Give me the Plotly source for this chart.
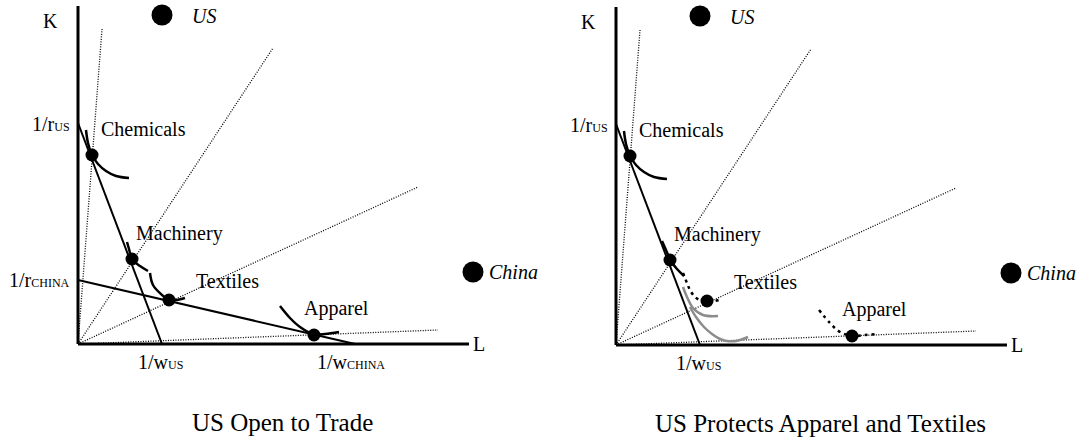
import plotly.graph_objects as go

# ---- diagram data (panel-local coordinates: L to the right, K upward) ----
axis_len_L = 391
axis_len_K = [338, 338]

rays_end = [(24, 315), (195, 296), (340, 157), (360, 14)]

us_isocost = [(0, 221), (84, 0)]
china_isocost = [(0, 64), (277, 0)]

dots = {"Chemicals": (14, 189), "Machinery": (54, 85), "Textiles": (91, 44), "Apparel": (236, 9)}

chem_iso_L = [8, 10, 14, 20, 28, 38, 51]
chem_iso_K = [214, 201, 189, 180, 173, 168, 166]

mach_iso_L = [49, 51, 54, 62, 70]
mach_iso_K = [102, 95, 85, 78, 73]

text_iso_L = [72, 75, 84, 91, 99, 107]
text_iso_K = [71, 59, 49, 44, 44, 46]

app_iso_L = [202, 212, 222, 235, 247, 261]
app_iso_K = [38, 26, 17, 10, 10, 12]

# right panel (protection)
mach2_L = [46, 50, 55, 61, 68]
mach2_K = [104, 95, 84, 76, 69]
text2_dot_L = [67, 71, 74, 79, 86, 92, 99, 106]
text2_dot_K = [72, 62, 55, 48, 44, 43, 44, 46]
gray_text_L = [67, 71, 77, 87, 102]
gray_text_K = [58, 48, 37, 30, 29]
gray_app_L = [74, 80, 88, 96, 104, 111, 120, 132]
gray_app_K = [38, 28, 18, 11, 6, 4, 4, 8]
app2_dot_L = [203, 214, 224, 237, 249, 261]
app2_dot_K = [35, 22, 13, 9, 10, 11]

us_point = (84, 329)
china_point = (395, 72)

titles = ["US Open to Trade", "US Protects Apparel and Textiles"]

FONT = "Liberation Serif, Times New Roman, Times, serif"
BLACK = "#000000"
GRAY = "#8c8c8c"
SUB = "<span style='font-size:12px'>%s</span>"

fig = go.Figure()


def add_line(xs, ys, panel, color=BLACK, width=2, dash="solid", shape="linear"):
    fig.add_trace(go.Scatter(x=xs, y=ys, mode="lines", xaxis="x" if panel == 1 else "x2",
                             yaxis="y" if panel == 1 else "y2",
                             line=dict(color=color, width=width, dash=dash, shape=shape),
                             hoverinfo="skip", showlegend=False))


def add_dots(xs, ys, panel, size):
    fig.add_trace(go.Scatter(x=xs, y=ys, mode="markers", xaxis="x" if panel == 1 else "x2",
                             yaxis="y" if panel == 1 else "y2",
                             marker=dict(color=BLACK, size=size, line=dict(width=0)),
                             hoverinfo="skip", showlegend=False))


def ann(text, x, y, panel, xanchor="left", size=20, italic=False):
    if italic:
        text = "<i>" + text + "</i>"
    fig.add_annotation(text=text, x=x, y=y, xref="x" if panel == 1 else "x2",
                       yref="y" if panel == 1 else "y2", showarrow=False,
                       xanchor=xanchor, yanchor="middle",
                       font=dict(family=FONT, size=size, color=BLACK))


for p in (1, 2):
    # rays
    for (ex, ey) in rays_end:
        add_line([0, ex], [0, ey], p, width=1.3, dash="1px,1.5px")
    # axes
    add_line([0, 0], [0, axis_len_K[p - 1]], p, width=3)
    add_line([0, axis_len_L], [0, 0], p, width=3)
    # US isocost
    add_line([q[0] for q in us_isocost], [q[1] for q in us_isocost], p, width=2)
    # chemicals isoquant
    add_line(chem_iso_L, chem_iso_K, p, width=2.5, shape="spline")
    # big country dots
    add_dots([us_point[0], china_point[0]], [us_point[1], china_point[1]], p, 21)
    ann("K", -28, 323, p, xanchor="center")
    ann("L", 401, 0, p, xanchor="center")
    ann("US", 112, 328, p, italic=True)
    ann("China", 409, 72, p, italic=True)
    ann("1/r" + SUB % "US", -6, 220, p, xanchor="right")
    ann("Chemicals", 21, 215, p)
    ann("Machinery", 56, 111, p)
    ann("Textiles", 116, 63, p)
    ann("Apparel", 224, 36, p)
    ann("1/w" + SUB % "US", 58, -18, p)
    ann(titles[p - 1], 204, -78, p, xanchor="center", size=25)

# panel 1 specifics
add_line([q[0] for q in china_isocost], [q[1] for q in china_isocost], 1, width=2)
add_line(mach_iso_L, mach_iso_K, 1, width=2.5, shape="spline")
add_line(text_iso_L, text_iso_K, 1, width=2.5, shape="spline")
add_line(app_iso_L, app_iso_K, 1, width=2.5, shape="spline")
add_dots([v[0] for v in dots.values()], [v[1] for v in dots.values()], 1, 13)
ann("1/r" + SUB % "CHINA", -6, 64, 1, xanchor="right")
ann("1/w" + SUB % "CHINA", 237, -18, 1)

# panel 2 specifics
add_line(gray_text_L, gray_text_K, 2, color=GRAY, width=2.5, shape="spline")
add_line(gray_app_L, gray_app_K, 2, color=GRAY, width=2.5, shape="spline")
add_line(mach2_L, mach2_K, 2, width=2.5, shape="spline")
add_line(text2_dot_L, text2_dot_K, 2, width=2.5, dash="3px,4px", shape="spline")
add_line(app2_dot_L, app2_dot_K, 2, width=2.5, dash="3px,4px", shape="spline")
add_dots([v[0] for v in dots.values()], [v[1] for v in dots.values()], 2, 13)

ax_common = dict(visible=False, showgrid=False, zeroline=False, fixedrange=True)
fig.update_layout(
    width=1084, height=441, margin=dict(l=0, r=0, t=0, b=0),
    paper_bgcolor="white", plot_bgcolor="white", showlegend=False,
    font=dict(family=FONT),
    xaxis=dict(domain=[0, 0.5], range=[-78, 464], **ax_common),
    yaxis=dict(domain=[0, 1], range=[-97, 344], **ax_common),
    xaxis2=dict(domain=[0.5, 1], range=[-74, 468], anchor="y2", **ax_common),
    yaxis2=dict(domain=[0, 1], range=[-96, 345], anchor="x2", **ax_common),
)

fig.write_html("out.html", post_script="document.body.style.margin='0px';",
               config={"displayModeBar": False, "staticPlot": True})
